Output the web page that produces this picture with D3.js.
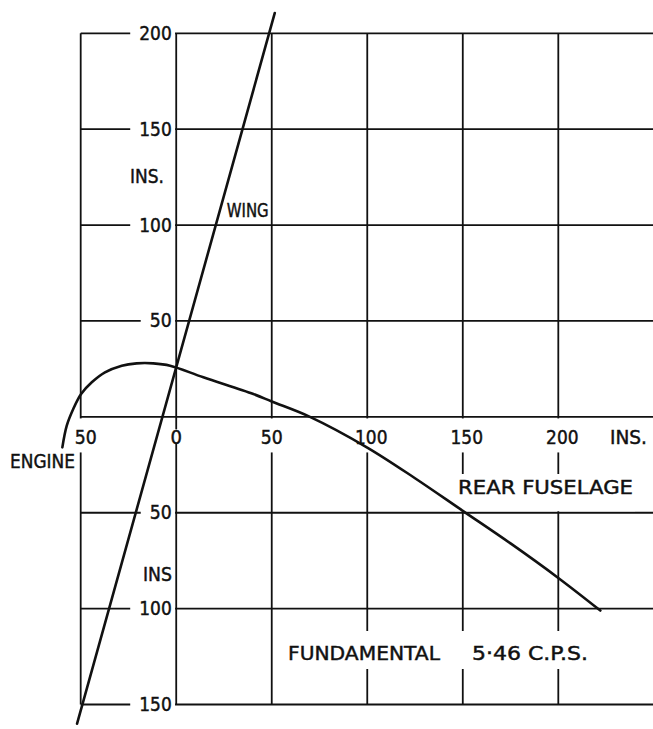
<!DOCTYPE html>
<html><head><meta charset="utf-8">
<script src="https://cdn.jsdelivr.net/npm/d3@7"></script>
<style>body{margin:0;background:#fff}svg{display:block}</style>
</head><body><svg id="c" width="653" height="729"></svg>
<script>
// ---- data ----
const xGrid = [-50, 0, 50, 100, 150, 200];
const yGrid = [200, 150, 100, 50, 0, -50, -100, -150];
const xTickValues = [-50, 0, 50, 100, 150, 200];
const xTickLabels = ["50", "0", "50", "100", "150", "200"];
const yTickValues = [200, 150, 100, 50, -50, -100, -150];
const yTickLabels = ["200", "150", "100", "50", "50", "100", "150"];
// wing mode line (inches)
const wingX = [-51.9, 51.6];
const wingY = [-160, 210.6];
// engine + rear fuselage mode line (inches)
const bodyX = [-59.6, -57.3, -53.9, -49.8, -44.2, -37.3, -28.5, -20.7, -12, -3.2, 14.2, 40.4, 50, 70, 100, 125, 150, 175, 200, 222];
const bodyY = [-15.9, -4.6, 4.1, 11.9, 18, 23.2, 26.7, 27.9, 27.9, 26.7, 20.6, 11.9, 8, 0, -16, -32, -49, -66, -84, -101];

// ---- layout ----
const W = 653, H = 729;
const x = d3.scaleLinear().domain([-50, 200]).range([80.7, 558.3]);
const y = d3.scaleLinear().domain([-150, 200]).range([704.5, 33.3]);
const svg = d3.select("#c");
svg.append("rect").attr("width", W).attr("height", H).attr("fill", "#fff");
const FONT = "DejaVu Sans";
const ink = "#111";

// grid
const g = svg.append("g").attr("stroke", ink).attr("stroke-width", 1.8).attr("fill", "none");
g.selectAll("line.v").data(xGrid).join("line").attr("class", "v")
  .attr("x1", d => x(d)).attr("x2", d => x(d)).attr("y1", y(200)).attr("y2", y(-150));
g.selectAll("line.h").data(yGrid).join("line").attr("class", "h")
  .attr("x1", x(-50)).attr("x2", W).attr("y1", d => y(d)).attr("y2", d => y(d));

const masks = svg.append("g").attr("fill", "#fff");
const texts = svg.append("g").attr("fill", ink).attr("stroke", ink).attr("stroke-width", 0.45)
  .attr("font-family", FONT).attr("font-size", 19);

function label(txt, px, py, anchor, len) {
  const t = texts.append("text").attr("x", px).attr("y", py).attr("text-anchor", anchor || "start").text(txt);
  if (len) t.attr("textLength", len).attr("lengthAdjust", "spacingAndGlyphs");
  return t;
}

// y tick labels (left of the x=0 line)
yTickValues.forEach((v, i) => {
  const t = label(yTickLabels[i], x(0) - 4.5, y(v) + 6.5, "end", yTickLabels[i].length * 10.5 + 1);
  const bb = t.node().getBBox();
  masks.append("rect").attr("x", bb.x - 9).attr("y", y(v) - 3).attr("width", x(0) - 1.2 - (bb.x - 9)).attr("height", 6);
});

// x tick labels (below the axis)
xTickValues.forEach((v, i) => {
  const lab = xTickLabels[i];
  const off = v === -50 ? 5 : (lab.length === 3 ? 4 : 0);
  label(lab, x(v) + off, y(0) + 27, "middle", lab.length * 10.5 + 1);
  if (v === 0) {
    masks.append("rect").attr("x", x(v) - 3).attr("y", y(0) + 12.5).attr("width", 6).attr("height", 14);
  } else {
    masks.append("rect").attr("x", x(v) - 3).attr("y", y(0) + 1.6).attr("width", 6).attr("height", 34);
  }
});
label("INS.", 610, y(0) + 27, "start", 37);

// axis unit labels
label("INS.", 130, 182.7, "start", 34);
label("INS", 143, 581, "start", 29);

// curve labels
label("WING", 226.7, 216.7, "start", 42);
label("ENGINE", 10, 468.3, "start", 65);
label("REAR FUSELAGE", 458, 494, "start", 175);
masks.append("rect").attr("x", 455).attr("y", 474).attr("width", 180).attr("height", y(-50) - 475.5);
label("FUNDAMENTAL", 288, 660, "start", 152);
label("5\u00B746 C.P.S.", 472, 660, "start", 116);
masks.append("rect").attr("x", 280).attr("y", 631).attr("width", 320).attr("height", 38);

// curves
const line = d3.line().x(d => x(d[0])).y(d => y(d[1]));
svg.append("path").datum(wingX.map((v, i) => [v, wingY[i]]))
  .attr("d", line).attr("fill", "none").attr("stroke", ink).attr("stroke-width", 2.6).attr("stroke-linecap", "round");
svg.append("path").datum(bodyX.map((v, i) => [v, bodyY[i]]))
  .attr("d", line.curve(d3.curveCatmullRom.alpha(0.5))).attr("fill", "none").attr("stroke", ink).attr("stroke-width", 2.6).attr("stroke-linecap", "round");

// keep text on top
texts.raise();
</script></body></html>
